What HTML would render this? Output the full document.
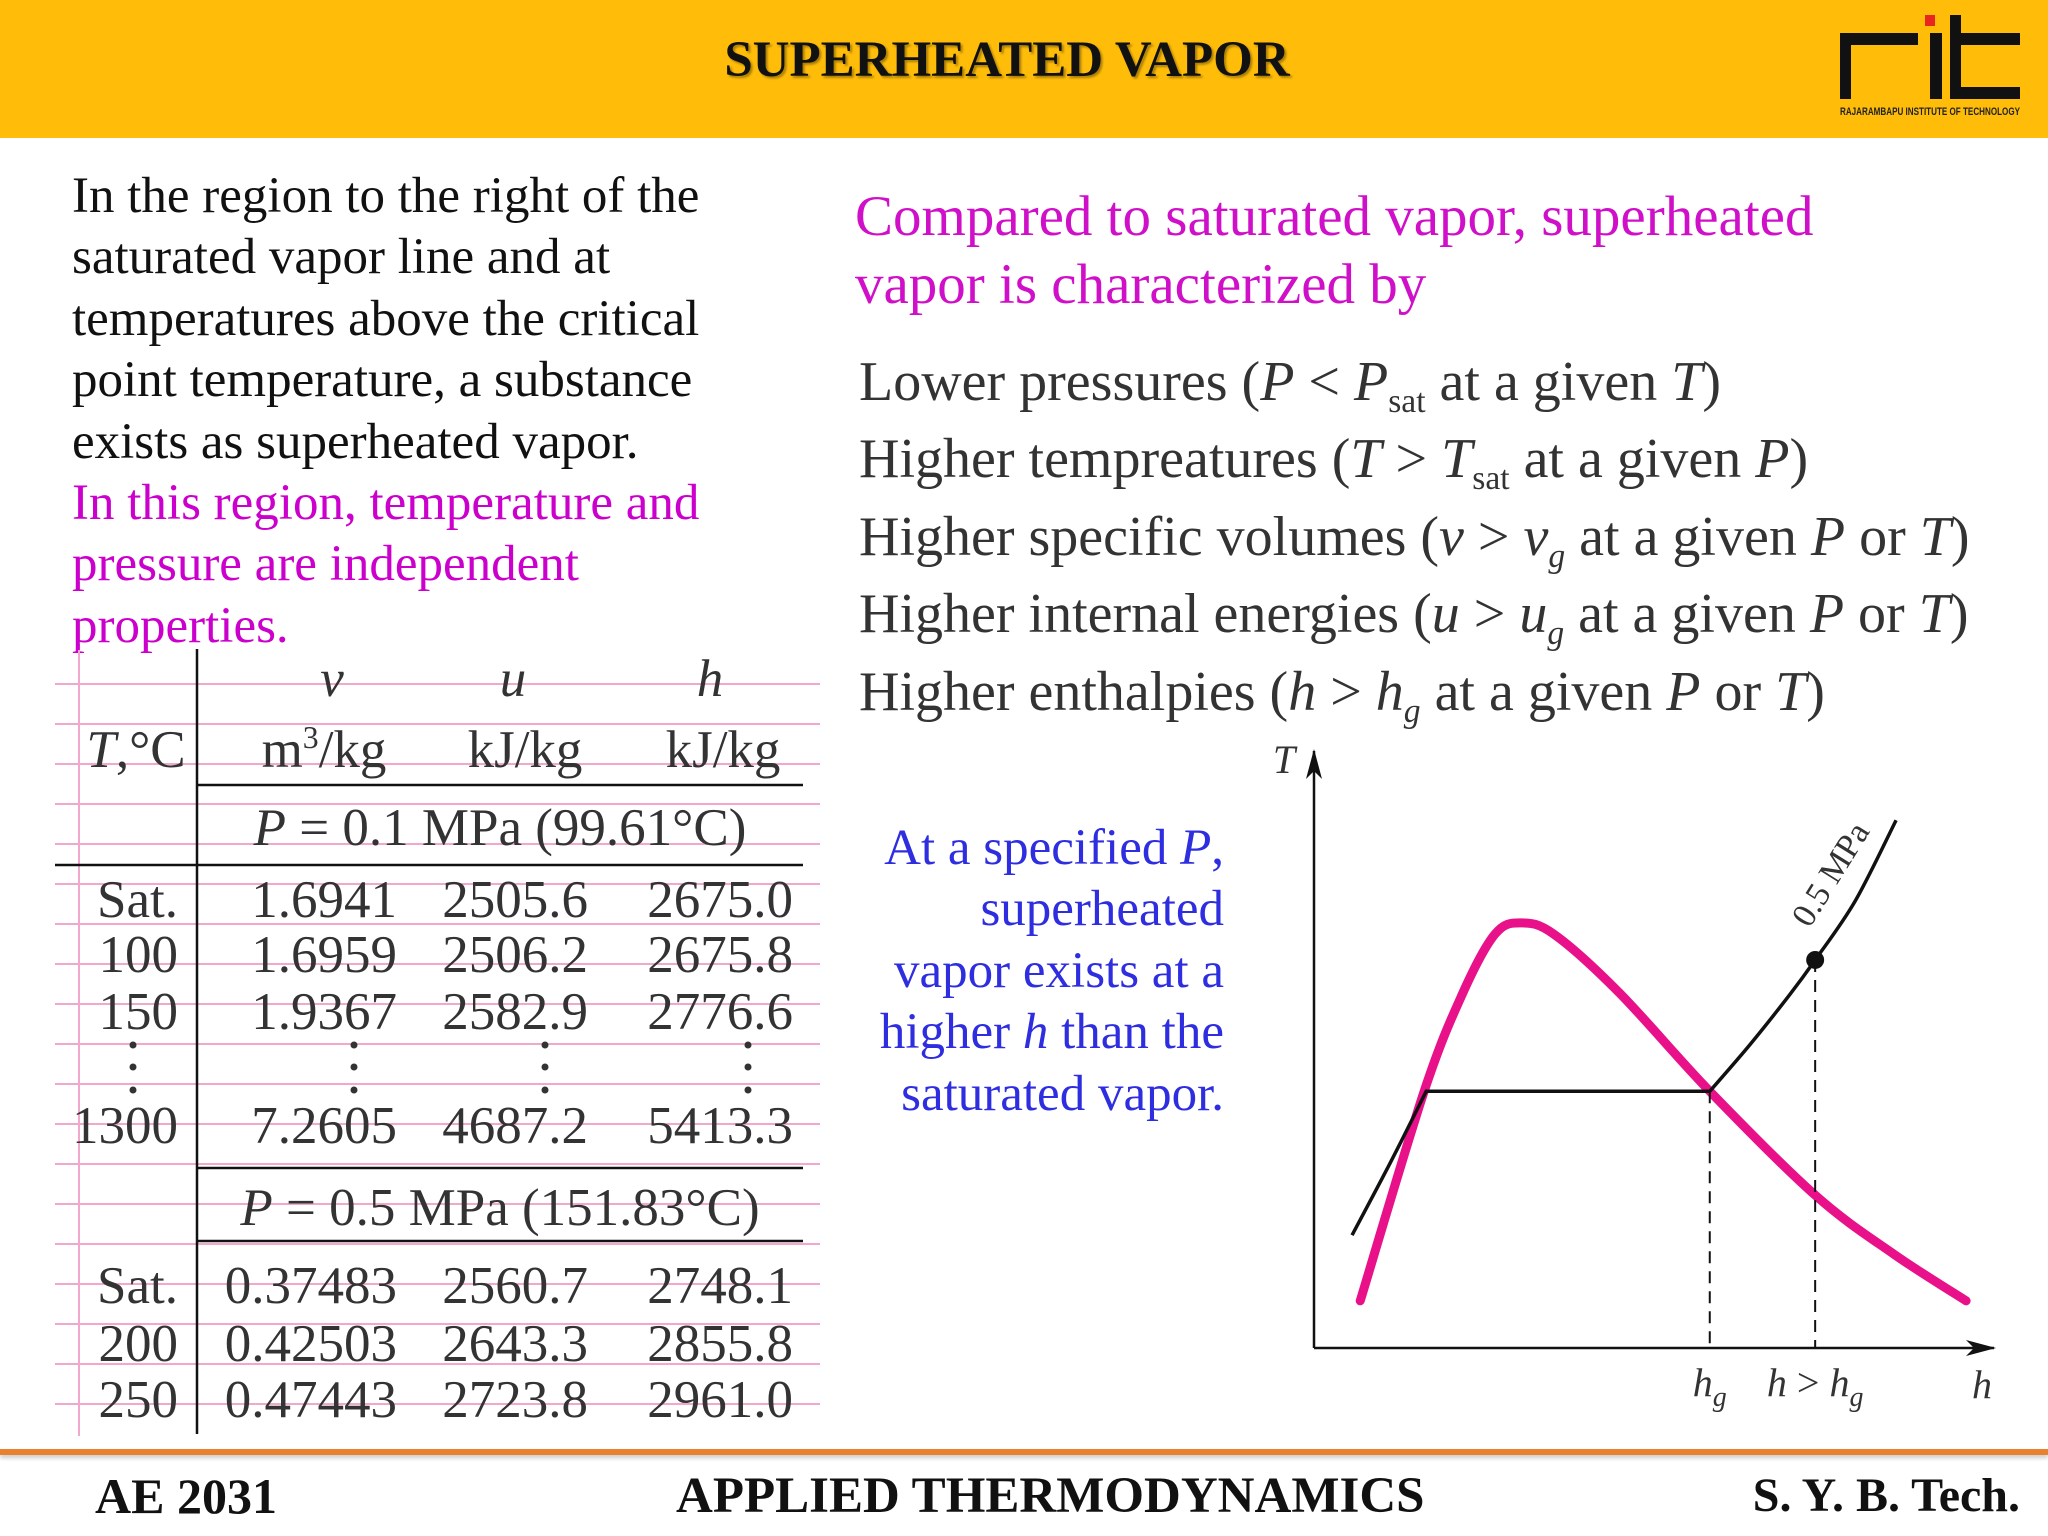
<!DOCTYPE html>
<html><head><meta charset="utf-8">
<style>
html,body{margin:0;padding:0}
body{width:2048px;height:1536px;position:relative;overflow:hidden;background:#fff;font-family:"Liberation Serif",serif}
.a{position:absolute;white-space:nowrap}
.t{position:absolute;white-space:nowrap;font-size:53px;color:#333;line-height:60px;height:60px}
.r{text-align:right}
.c{text-align:center;transform:translateX(-50%)}
i{font-style:italic}
sub{font-size:0.6em;vertical-align:-0.35em;line-height:0}
sup{font-size:0.6em;vertical-align:0.6em;line-height:0}
</style></head><body>
<div class="a" style="left:0;top:0;width:2048px;height:138px;background:#FFBD0A"></div>
<div class="a" style="left:0;width:2014px;top:29px;text-align:center;font-weight:bold;font-size:51px;line-height:62px;color:#111;text-shadow:2px 2px 2px rgba(0,0,0,0.35)">SUPERHEATED VAPOR</div>
<svg class="a" style="left:1830px;top:8px" width="210" height="115" viewBox="1830 8 210 115">
<rect x="1840" y="33" width="11" height="66" fill="#111"/><rect x="1840" y="33" width="78" height="12" fill="#111"/>
<rect x="1925" y="15" width="10" height="11" fill="#e8261e"/><rect x="1930" y="33" width="12" height="66" fill="#111"/>
<rect x="1950" y="15" width="11" height="84" fill="#111"/><rect x="1950" y="33" width="70" height="12" fill="#111"/><rect x="1950" y="87" width="70" height="12" fill="#111"/>
<text x="1840" y="115" font-family="Liberation Sans" font-weight="bold" font-size="11" textLength="180" lengthAdjust="spacingAndGlyphs" fill="#222">RAJARAMBAPU INSTITUTE OF TECHNOLOGY</text>
</svg>

<div class="a" style="left:72px;top:166px;font-size:51px;line-height:61.4px;color:#111">In the region to the right of the<br>saturated vapor line and at<br>temperatures above the critical<br>point temperature, a substance<br>exists as superheated vapor.<br><span style="color:#CC00CC">In this region, temperature and<br>pressure are independent<br>properties.</span></div>

<div class="a" style="left:855px;top:183px;font-size:57px;line-height:68px;color:#D010C8">Compared to saturated vapor, superheated<br>vapor is characterized by</div>

<div class="a" style="left:859px;top:344px;font-size:56px;line-height:77.4px;color:#333">
<div>Lower pressures (<i>P</i> &lt; <i>P</i><sub>sat</sub> at a given <i>T</i>)</div>
<div>Higher tempreatures (<i>T</i> &gt; <i>T</i><sub>sat</sub> at a given <i>P</i>)</div>
<div>Higher specific volumes (<i>v</i> &gt; <i>v</i><sub><i>g</i></sub> at a given <i>P</i> or <i>T</i>)</div>
<div>Higher internal energies (<i>u</i> &gt; <i>u</i><sub><i>g</i></sub> at a given <i>P</i> or <i>T</i>)</div>
<div>Higher enthalpies (<i>h</i> &gt; <i>h</i><sub><i>g</i></sub> at a given <i>P</i> or <i>T</i>)</div>
</div>

<div class="a" style="left:700px;width:524px;top:818px;font-size:51px;line-height:61.4px;color:#2E2EE0;text-align:right">At a specified <i>P</i>,<br>superheated<br>vapor exists at a<br>higher <i>h</i> than the<br>saturated vapor.</div>

<!-- table -->
<svg class="a" style="left:0;top:0" width="830" height="1450">
<g stroke="#F2A8CC" stroke-width="2" id="pinklines"></g>
<line x1="79" y1="650" x2="79" y2="1436" stroke="#F2A8CC" stroke-width="2"/>
<line x1="197" y1="649" x2="197" y2="1434" stroke="#111" stroke-width="2.5"/>
<line x1="197" y1="785" x2="803" y2="785" stroke="#111" stroke-width="2.5"/>
<line x1="55" y1="865" x2="803" y2="865" stroke="#111" stroke-width="2.5"/>
<line x1="197" y1="1168" x2="803" y2="1168" stroke="#111" stroke-width="2.5"/>
<line x1="197" y1="1241" x2="803" y2="1241" stroke="#111" stroke-width="2.5"/>
<g fill="#333" id="dots"></g>
</svg>
<div>
<div class="t c" style="left:332px;top:649px"><i>v</i></div>
<div class="t c" style="left:513px;top:649px"><i>u</i></div>
<div class="t c" style="left:710px;top:649px"><i>h</i></div>
<div class="t c" style="left:136px;top:720px"><i>T</i>,°C</div>
<div class="t c" style="left:324px;top:720px">m<sup>3</sup>/kg</div>
<div class="t c" style="left:525px;top:720px">kJ/kg</div>
<div class="t c" style="left:723px;top:720px">kJ/kg</div>
<div class="t c" style="left:500px;top:798px"><i>P</i> = 0.1 MPa (99.61°C)</div>
<div class="t c" style="left:500px;top:1178px"><i>P</i> = 0.5 MPa (151.83°C)</div>
<div id="rows"></div>
</div>

<!-- chart -->
<svg class="a" style="left:0;top:0" width="2048" height="1450" id="chart">
<defs><marker id="arr" markerWidth="30" markerHeight="16" refX="28" refY="8" orient="auto" markerUnits="userSpaceOnUse"><path d="M0,0 L30,8 L0,16 L8,8 Z" fill="#111"/></marker></defs>
</svg>

<div class="a" style="left:0;top:1449px;width:2048px;height:6px;background:#E98131;box-shadow:0 3px 4px rgba(0,0,0,0.2)"></div>
<div class="a" style="left:95px;top:1466px;font-size:50px;font-weight:bold;line-height:60px;color:#111">AE 2031</div>
<div class="a" style="left:676px;top:1466px;font-size:51px;font-weight:bold;line-height:60px;color:#111">APPLIED THERMODYNAMICS</div>
<div class="a" style="right:28px;top:1466px;font-size:48px;font-weight:bold;line-height:60px;color:#111">S. Y. B. Tech.</div>

<script>
// table data
const tempLabels = ["Sat.","100","150","1300","Sat.","200","250"];
const vVals = ["1.6941","1.6959","1.9367","7.2605","0.37483","0.42503","0.47443"];
const uVals = ["2505.6","2506.2","2582.9","4687.2","2560.7","2643.3","2723.8"];
const hVals = ["2675.0","2675.8","2776.6","5413.3","2748.1","2855.8","2961.0"];
// chart data (schematic units: h 0-100, T 0-100)
const domeH = [6.8,16.2,21.9,26.6,30.4,35.3,44.9,58.2,73.7,85.3,95.9];
const domeT = [7.9,43.0,59.5,69.3,71.2,69.3,59.5,43.0,25.6,15.7,7.9];
const liqH = [5.6,11.3,16.5];
const liqT = [18.9,31.2,43.0];
const vapH = [58.2,64.1,69.9,73.7,79.6,85.6];
const vapT = [43.0,50.8,59.1,65.0,74.9,88.4];
const hgVal = 58.2, hVal = 73.7, tAtH = 65.0, tAtHg = 43.0;

const svgNS="http://www.w3.org/2000/svg";
const pl=document.getElementById('pinklines');
for(let k=0;k<19;k++){
  const y=684+k*40;
  const l=document.createElementNS(svgNS,'line');
  
  
  l.setAttribute('x1',55);l.setAttribute('x2',820);l.setAttribute('y1',y);l.setAttribute('y2',y);
  pl.appendChild(l);
}
const dots=document.getElementById('dots');
[133,354,545,748].forEach(x=>[1045,1067,1090].forEach(y=>{
  const c=document.createElementNS(svgNS,'circle');
  
  
  c.setAttribute('cx',x);c.setAttribute('cy',y);c.setAttribute('r',3.5);dots.appendChild(c);
}));
const rowsEl=document.getElementById('rows');
const rowY=[870,925,982,1096,1256,1314,1370];
function cell(txt,right,y,name){
  const d=document.createElement('div');
  
  
  d.className='t r';d.style.right=(2048-right)+'px';d.style.top=y+'px';d.textContent=txt;rowsEl.appendChild(d);
}
tempLabels.forEach((t,i)=>{
  cell(t,178,rowY[i],'temp-cell');
  cell(vVals[i],397,rowY[i],'volume-cell');
  cell(uVals[i],588,rowY[i],'energy-cell');
  cell(hVals[i],793,rowY[i],'enthalpy-cell');
});

// chart
const chart=document.getElementById('chart');
const X0=1314,X1=1994,Y0=1348,Y1=751;
const sx=h=>X0+(X1-X0)*h/100;
const sy=t=>Y0-(Y0-Y1)*t/100;
function smooth(hs,ts){
  const p=hs.map((h,i)=>[sx(h),sy(ts[i])]);
  let d='M'+p[0][0]+','+p[0][1];
  for(let i=0;i<p.length-1;i++){
    const p0=p[i-1]||p[i],p1=p[i],p2=p[i+1],p3=p[i+2]||p[i+1];
    const c1=[p1[0]+(p2[0]-p0[0])/6,p1[1]+(p2[1]-p0[1])/6];
    const c2=[p2[0]-(p3[0]-p1[0])/6,p2[1]-(p3[1]-p1[1])/6];
    d+=' C'+c1+' '+c2+' '+p2;
  }
  return d;
}
function el(tag,attrs,name){
  const e=document.createElementNS(svgNS,tag);
  
  
  for(const k in attrs)e.setAttribute(k,attrs[k]);
  chart.appendChild(e);return e;
}
el('line',{x1:X0,y1:Y0,x2:X0,y2:Y1,stroke:'#111','stroke-width':2.5,'marker-end':'url(#arr)'},'y-axis');
el('line',{x1:X0,y1:Y0,x2:X1,y2:Y0,stroke:'#111','stroke-width':2.5,'marker-end':'url(#arr)'},'x-axis');
el('path',{d:smooth(domeH,domeT),fill:'none',stroke:'#E8118A','stroke-width':9,'stroke-linecap':'round'},'saturation-dome');
el('path',{d:smooth(liqH,liqT)+' L'+sx(vapH[0])+','+sy(vapT[0])+' '+smooth(vapH,vapT).replace('M',' L'),fill:'none',stroke:'#111','stroke-width':3.5},'isobar-0-5mpa');
el('line',{x1:sx(hgVal),y1:sy(tAtHg),x2:sx(hgVal),y2:Y0,stroke:'#111','stroke-width':2,'stroke-dasharray':'12,8'},'hg-dashed-line');
el('line',{x1:sx(hVal),y1:sy(tAtH),x2:sx(hVal),y2:Y0,stroke:'#111','stroke-width':2,'stroke-dasharray':'12,8'},'h-dashed-line');
el('circle',{cx:sx(hVal),cy:sy(tAtH),r:9,fill:'#111'},'state-point');
const lab=(x,y,html,name,extra)=>{const t=el('text',Object.assign({x:x,y:y,'font-family':'Liberation Serif','font-size':40,fill:'#333','text-anchor':'middle'},extra||{}),name);t.innerHTML=html;};
lab(X0-30,Y1+22,'<tspan font-style="italic">T</tspan>','y-axis-title');
lab(X1-12,Y0+50,'<tspan font-style="italic">h</tspan>','x-axis-title');
lab(sx(hgVal),Y0+48,'<tspan font-style="italic">h</tspan><tspan font-style="italic" font-size="28" dy="10">g</tspan>','hg-label');
lab(sx(hVal),Y0+48,'<tspan font-style="italic">h</tspan> &gt; <tspan font-style="italic">h</tspan><tspan font-style="italic" font-size="28" dy="10">g</tspan>','h-gt-hg-label');
lab(1840,880,'0.5 MPa','isobar-label',{transform:'rotate(-58 1840 880)','font-size':34});
</script>
</body></html>
